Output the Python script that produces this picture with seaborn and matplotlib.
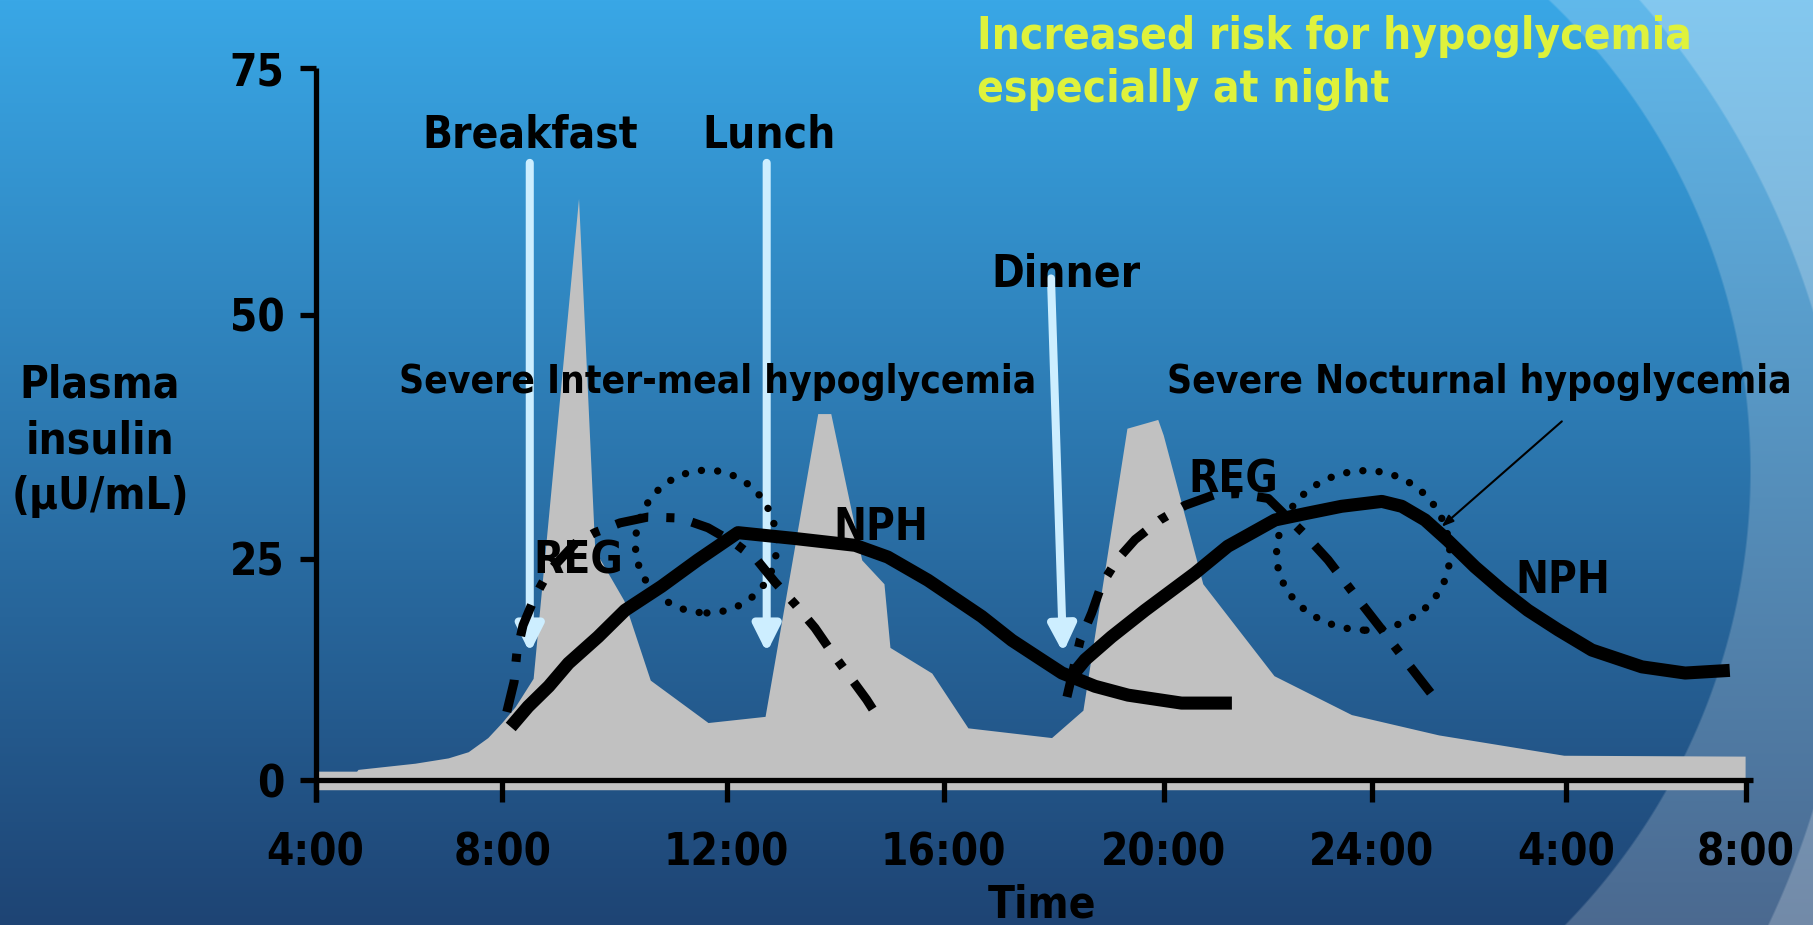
import numpy as np
import matplotlib
matplotlib.use("Agg")
import matplotlib.pyplot as plt
from matplotlib.patches import Ellipse
import seaborn as sns

# ------------------------------------------------------------------ data
tick_hours = [4, 8, 12, 16, 20, 24, 28, 32]
tick_labels = ["4:00", "8:00", "12:00", "16:00", "20:00", "24:00", "4:00", "8:00"]
y_ticks = [0, 25, 50, 75]

# total plasma insulin (grey area), hours after midnight of day 1
profile_hours = [4.00, 4.88, 4.91, 6.13, 6.84, 7.27, 7.69, 7.99, 8.23, 8.55,
                 9.36, 9.65, 10.17, 10.64, 11.67, 12.71, 13.68, 13.92, 14.49,
                 14.90, 15.01, 15.78, 16.44, 17.96, 18.53, 19.33, 19.89, 19.99,
                 20.75, 22.12, 23.61, 25.38, 27.96, 31.98]
profile_level = [1.0, 1.0, 1.2, 1.9, 2.5, 3.2, 4.8, 6.5, 8.3, 11.5,
                 61.8, 25.9, 20.3, 11.3, 6.5, 7.2, 39.9, 39.9, 24.9,
                 22.2, 15.0, 12.1, 5.9, 4.8, 7.9, 38.4, 39.3, 37.7,
                 22.2, 11.8, 7.4, 5.1, 2.8, 2.7]
profile_floor = -1.1

# NPH (intermediate-acting) insulin, morning and evening doses
nph_am_hours = [8.15, 8.46, 8.83, 9.18, 9.71, 10.19, 10.84, 11.49, 12.21, 13.26,
                14.37, 14.97, 15.71, 16.69, 17.24, 17.78, 18.15, 18.75, 19.35,
                20.34, 21.31]
nph_am_level = [6.0, 8.3, 10.6, 13.2, 16.2, 19.2, 21.9, 24.9, 27.7, 27.1,
                26.4, 25.2, 22.6, 18.5, 15.8, 13.6, 12.1, 10.6, 9.6,
                8.7, 8.7]
nph_pm_hours = [18.24, 18.57, 19.05, 19.66, 20.60, 21.23, 22.14, 22.77, 23.42,
                24.21, 24.62, 25.10, 25.57, 26.13, 26.68, 27.22, 27.84, 28.58,
                29.69, 30.65, 31.64]
nph_pm_level = [11.1, 13.6, 16.2, 19.2, 23.4, 26.3, 29.0, 29.7, 30.4,
                30.9, 30.4, 29.0, 26.9, 24.1, 21.5, 19.2, 17.0, 14.7,
                12.8, 12.1, 12.4]

# REG (regular) insulin, morning and evening doses
reg_am_hours = [8.08, 8.21, 8.26, 8.37, 8.58, 8.82, 9.30, 9.65, 10.10, 10.60,
                11.17, 11.67, 12.16, 12.56, 12.89, 13.26, 13.63, 13.91, 14.58,
                14.84]
reg_am_level = [7.7, 11.1, 14.4, 17.5, 20.7, 23.5, 26.6, 27.7, 28.7, 29.3,
                29.2, 28.2, 26.6, 24.9, 22.4, 19.9, 17.2, 14.7, 9.1, 6.6]
reg_pm_hours = [18.24, 18.48, 18.69, 18.87, 19.15, 19.48, 19.93, 20.41, 20.98,
                21.43, 22.01, 22.68, 23.16, 23.68, 24.21, 24.77, 25.33]
reg_pm_level = [9.4, 15.8, 18.9, 22.1, 24.9, 27.0, 29.0, 30.5, 31.6,
                31.7, 31.2, 27.7, 24.9, 20.9, 17.0, 13.0, 9.05]

# meals: label, arrow tail (hour, level), arrow tip (hour, level), label anchor
meal_names = ["Breakfast", "Lunch", "Dinner"]
meal_tail = [(8.49, 65.4), (12.74, 65.4), (17.95, 53.7)]
meal_tip = [(8.49, 14.4), (12.74, 14.4), (18.17, 14.4)]
meal_label_at = [(8.49, 67.0), (12.78, 67.0), (18.22, 52.9)]

# hypoglycemia risk windows (centre hour, centre level, width h, height)
risk_windows = [(11.65, 26.5, 2.55, 15.2), (23.89, 25.5, 3.44, 17.1)]
risk_names = ["Severe Inter-meal hypoglycemia", "Severe Nocturnal hypoglycemia"]
risk_label_at = [(11.85, 42.0), (26.21, 42.0)]
nocturnal_pointer = [(27.92, 39.1), (25.44, 28.3)]

curve_labels = [("REG", 9.35, 23.4), ("REG", 21.33, 31.8),
                ("NPH", 14.85, 26.95), ("NPH", 27.94, 21.1)]

headline = "Increased risk for hypoglycemia\nespecially at night"

# ------------------------------------------------------------------ layout
W, H = 1813, 925
# hand-drawn axis: spacing of the printed ticks (pixels from the origin)
X_WARP = [0.0, 186.8, 411.0, 628.2, 848.3, 1056.2, 1250.2, 1430.5]
Y_WARP = [0.0, 221.0, 465.0, 712.0]
AX_LEFT, AX_RIGHT, AX_TOP, AX_BOTTOM = 315.5, 1753.0, 68.0, 802.0
X_ORIGIN_ROW = 780.0


def _interp(v, xp, fp):
    v = np.asarray(v, dtype=float)
    out = np.interp(v, xp, fp)
    lo_slope = (fp[1] - fp[0]) / (xp[1] - xp[0])
    hi_slope = (fp[-1] - fp[-2]) / (xp[-1] - xp[-2])
    out = np.where(v < xp[0], fp[0] + (v - xp[0]) * lo_slope, out)
    out = np.where(v > xp[-1], fp[-1] + (v - xp[-1]) * hi_slope, out)
    return out


def fwd_x(v):
    return _interp(v, tick_hours, X_WARP)


def inv_x(p):
    return _interp(p, X_WARP, tick_hours)


def fwd_y(v):
    return _interp(v, y_ticks, Y_WARP)


def inv_y(p):
    return _interp(p, Y_WARP, y_ticks)


plt.rcParams["font.family"] = ["DejaVu Sans"]
plt.rcParams["font.stretch"] = "condensed"
plt.rcParams["font.weight"] = "bold"

FS = 31.6
FS_SMALL = 27.9

fig = plt.figure(figsize=(W / 100, H / 100), dpi=100)

# ---- slide background: blue vertical gradient with pale swooshes on the right
yy, xx = np.mgrid[0:H, 0:W].astype(float)
top = np.array([57, 167, 230]) / 255.0
bottom = np.array([30, 68, 116]) / 255.0
t = (yy / (H - 1))[..., None]
img = top * (1 - t) + bottom * t
for cx, cy, r, alpha in [(1100, 470, 650, 0.20), (1000, 560, 850, 0.22)]:
    d = np.hypot(xx - cx, yy - cy) - r
    a = np.clip(d / 2.0 + 0.5, 0, 1) * alpha
    a = np.where(xx > cx, a, 0.0)[..., None]
    img = img * (1 - a) + a
bg = fig.add_axes([0, 0, 1, 1], zorder=-10)
bg.imshow(img, aspect="auto", interpolation="bilinear")
bg.axis("off")

# ---- chart axes
ax = fig.add_axes([AX_LEFT / W, (H - AX_BOTTOM) / H,
                   (AX_RIGHT - AX_LEFT) / W, (AX_BOTTOM - AX_TOP) / H], zorder=1)
ax.patch.set_alpha(0)
ax.set_xscale("function", functions=(fwd_x, inv_x))
ax.set_yscale("function", functions=(fwd_y, inv_y))

ax.fill_between(profile_hours, profile_floor, profile_level,
                color="#c1c1c1", lw=0, zorder=1)

for (tx, ty), (hx, hy) in zip(meal_tail, meal_tip):
    ax.annotate("", xy=(hx, hy), xytext=(tx, ty), zorder=3,
                arrowprops=dict(arrowstyle="-|>,head_length=1.6,head_width=0.8",
                                color="#cdeeff", lw=5.8, shrinkA=0, shrinkB=0,
                                mutation_scale=10))

reg_style = (0, (3.66, 2.0, 0.9, 2.0))
for hx, lv in [(reg_am_hours, reg_am_level), (reg_pm_hours, reg_pm_level)]:
    sns.lineplot(x=hx, y=lv, ax=ax, color="black", lw=6.5, linestyle=reg_style,
                 sort=False, estimator=None, dash_capstyle="butt", zorder=4)

for hx, lv in [(nph_am_hours, nph_am_level), (nph_pm_hours, nph_pm_level)]:
    sns.lineplot(x=hx, y=lv, ax=ax, color="black", lw=9.4, sort=False,
                 estimator=None, solid_capstyle="butt",
                 solid_joinstyle="round", zorder=5)

for cx, cy, w, h in risk_windows:
    ax.add_patch(Ellipse((cx, cy), w, h, fill=False, edgecolor="black", lw=5.3,
                         linestyle=(0, (0.01, 2.2)), capstyle="round", zorder=6))

(px0, py0), (px1, py1) = nocturnal_pointer
ax.annotate("", xy=(px1, py1), xytext=(px0, py0), zorder=6,
            arrowprops=dict(arrowstyle="-|>,head_length=0.7,head_width=0.25",
                            color="black", lw=1.5, shrinkA=0, shrinkB=0,
                            mutation_scale=10))

for name, (lx, ly) in zip(meal_names, meal_label_at):
    ax.text(lx, ly, name, ha="center", va="baseline", fontsize=FS, zorder=7)
for name, (lx, ly) in zip(risk_names, risk_label_at):
    ax.text(lx, ly, name, ha="center", va="baseline", fontsize=FS_SMALL, zorder=7)
for name, lx, ly in curve_labels:
    ax.text(lx, ly, name, ha="center", va="baseline", fontsize=FS, zorder=7)

# ---- axes frame
ax.set_xlim(4, float(inv_x(AX_RIGHT - AX_LEFT)))
ax.set_ylim(float(inv_y(X_ORIGIN_ROW - AX_BOTTOM)), 75)
ax.set_xticks(tick_hours)
ax.set_xticklabels(tick_labels)
ax.set_yticks(y_ticks)
ax.set_yticklabels([str(v) for v in y_ticks])
for side in ("top", "right"):
    ax.spines[side].set_visible(False)
ax.spines["bottom"].set_position(("data", 0))
for side in ("left", "bottom"):
    ax.spines[side].set_linewidth(3.8)
    ax.spines[side].set_color("black")
    ax.spines[side].set_capstyle("butt")
ax.tick_params(axis="x", direction="out", length=16, width=3.8, pad=21,
               labelsize=FS, colors="black")
ax.tick_params(axis="y", direction="out", length=11.5, width=3.8, pad=10.8,
               labelsize=FS, colors="black")
for lab in ax.get_xticklabels() + ax.get_yticklabels():
    lab.set_fontweight("bold")

ax.set_xlabel("Time", fontsize=FS, fontweight="bold")
ax.xaxis.set_label_coords((1042 - AX_LEFT) / (AX_RIGHT - AX_LEFT),
                          (AX_BOTTOM - 917) / (AX_BOTTOM - AX_TOP))
ax.xaxis.label.set_va("baseline")
ax.set_ylabel("Plasma\ninsulin\n(µU/mL)", fontsize=FS, fontweight="bold",
              rotation=0, ha="center", va="center", multialignment="center",
              linespacing=1.37)
ax.yaxis.set_label_coords((100 - AX_LEFT) / (AX_RIGHT - AX_LEFT),
                          (AX_BOTTOM - 441) / (AX_BOTTOM - AX_TOP))

# two-line headline; the anchor is the baseline of its last line
fig.text(977 / W, 1 - 102 / H, headline, color="#dff23c", fontsize=FS,
         fontweight="bold", ha="left", va="baseline", linespacing=1.30)

fig.savefig("out.png", dpi=100)
